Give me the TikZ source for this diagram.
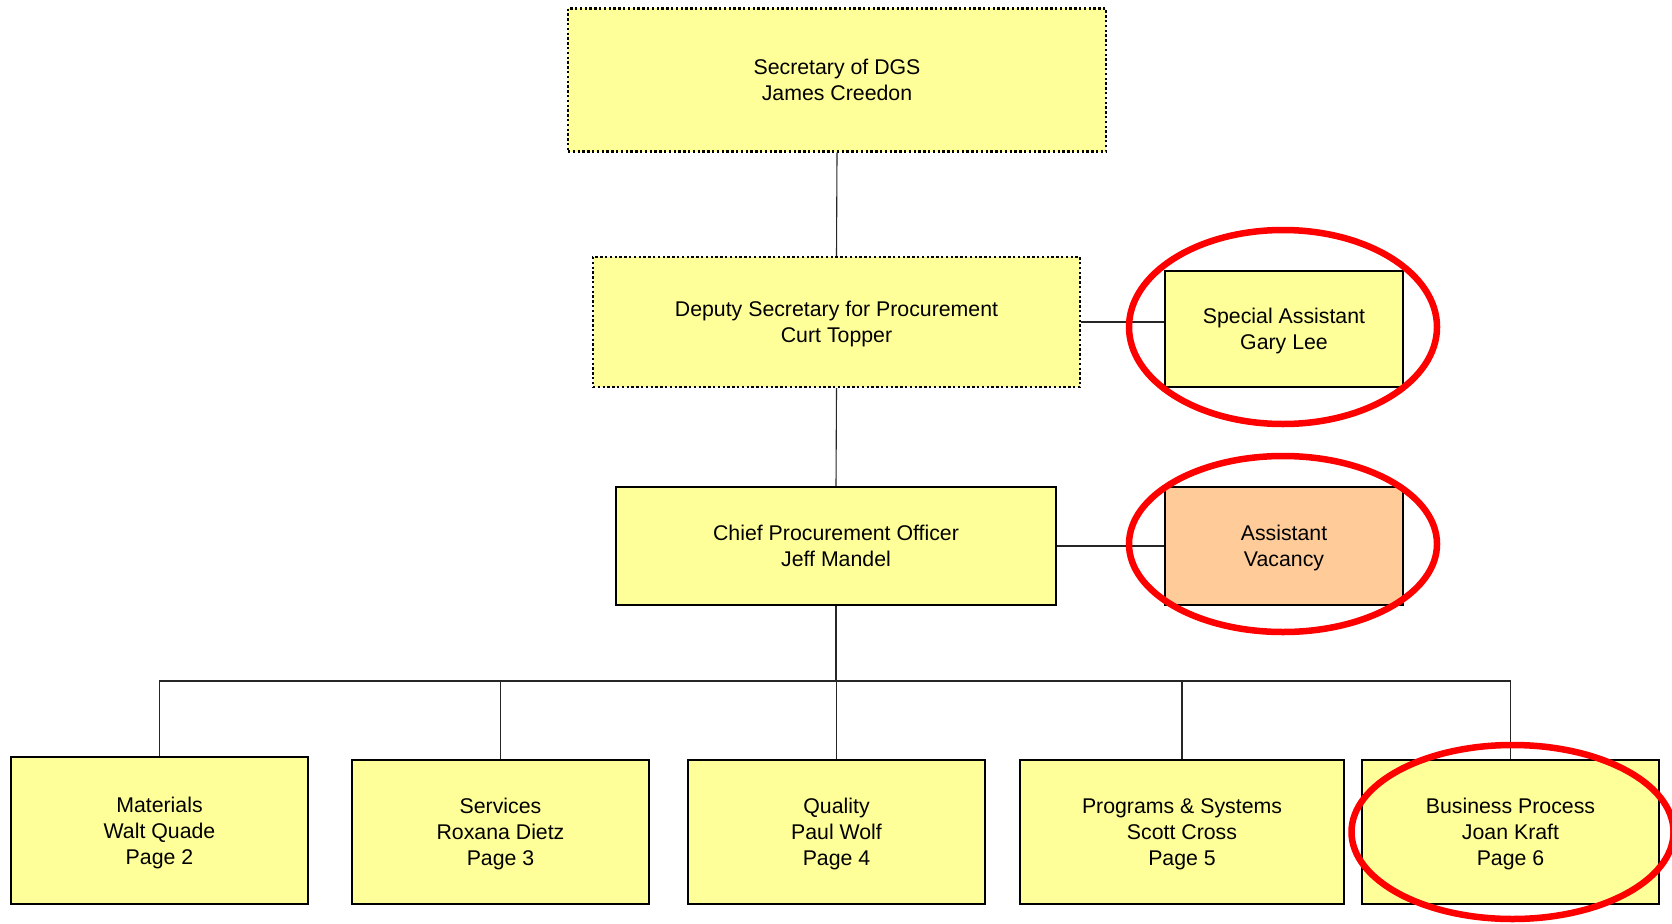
\documentclass[tikz,border=0pt]{standalone}
\usepackage{fontspec}
\setmainfont{Liberation Sans}
\begin{document}
\begin{tikzpicture}[x=1pt,y=-1pt,
  box/.style={draw=black, line width=2pt, fill=boxyellow, align=center,
    font=\fontsize{21.3pt}{25.8pt}\selectfont, inner sep=0pt, text depth=0pt},
  dotbox/.style={box, line width=2.4pt, dash pattern=on 2.4pt off 2.4pt},
  link/.style={draw=black!85, line width=1.1pt},
  highlight/.style={draw=red, line width=6.5pt}]
\definecolor{boxyellow}{HTML}{FFFF99}
\definecolor{vacancy}{HTML}{FFCC99}
\useasboundingbox (0,0) rectangle (1672,923);

% positions of the boxes
\coordinate (pSec) at (837,80);
\coordinate (pDep) at (836.5,322);
\coordinate (pSpc) at (1284,329);
\coordinate (pCpo) at (836,546);
\coordinate (pAst) at (1284,546);
\coordinate (pMat) at (159.5,830.5);
\coordinate (pSvc) at (500.5,832);
\coordinate (pQua) at (836.5,832);
\coordinate (pPrg) at (1182,832);
\coordinate (pBiz) at (1510.5,832);
\coordinate (bus) at (837,681);

% boxes
\node[dotbox, minimum width=538pt, minimum height=143pt] (sec) at (pSec) {Secretary of DGS\\James Creedon};
\node[dotbox, minimum width=487pt, minimum height=130pt] (dep) at (pDep) {Deputy Secretary for Procurement\\Curt Topper};
\node[box, minimum width=238pt, minimum height=116pt] (spc) at (pSpc) {Special Assistant\\Gary Lee};
\node[box, minimum width=440pt, minimum height=118pt] (cpo) at (pCpo) {Chief Procurement Officer\\Jeff Mandel};
\node[box, fill=vacancy, minimum width=238pt, minimum height=118pt] (ast) at (pAst) {Assistant\\Vacancy};
\node[box, minimum width=297pt, minimum height=147pt] (mat) at (pMat) {Materials\\Walt Quade\\Page 2};
\node[box, minimum width=297pt, minimum height=144pt] (svc) at (pSvc) {Services\\Roxana Dietz\\Page 3};
\node[box, minimum width=297pt, minimum height=144pt] (qua) at (pQua) {Quality\\Paul Wolf\\Page 4};
\node[box, minimum width=324pt, minimum height=144pt] (prg) at (pPrg) {Programs \& Systems\\Scott Cross\\Page 5};
\node[box, minimum width=297pt, minimum height=144pt] (biz) at (pBiz) {Business Process\\Joan Kraft\\Page 6};

% reporting lines
\draw[link] (sec.south) -- (dep.north);
\draw[link] (dep.east) -- (spc.west |- dep.east);
\draw[link] (dep.south) -- (cpo.north);
\draw[link] (cpo.east) -- (ast.west |- cpo.east);
\draw[link, line width=1.6pt] (cpo.south) -- (cpo.south |- bus);
\draw[link] (mat.north) -- (mat.north |- bus) -- (biz.north |- bus) -- (biz.north);
\draw[link] (svc.north) -- (svc.north |- bus);
\draw[link] (qua.north) -- (qua.north |- bus);
\draw[link] (prg.north) -- (prg.north |- bus);

% highlight rings
\draw[highlight] (pSpc) ++(-1,-2) ellipse [x radius=154, y radius=97];
\draw[highlight] (pAst) ++(-1,-2) ellipse [x radius=154, y radius=88];
\draw[highlight] (pBiz) ++(2,0) ellipse [x radius=161, y radius=87];
\end{tikzpicture}
\end{document}
